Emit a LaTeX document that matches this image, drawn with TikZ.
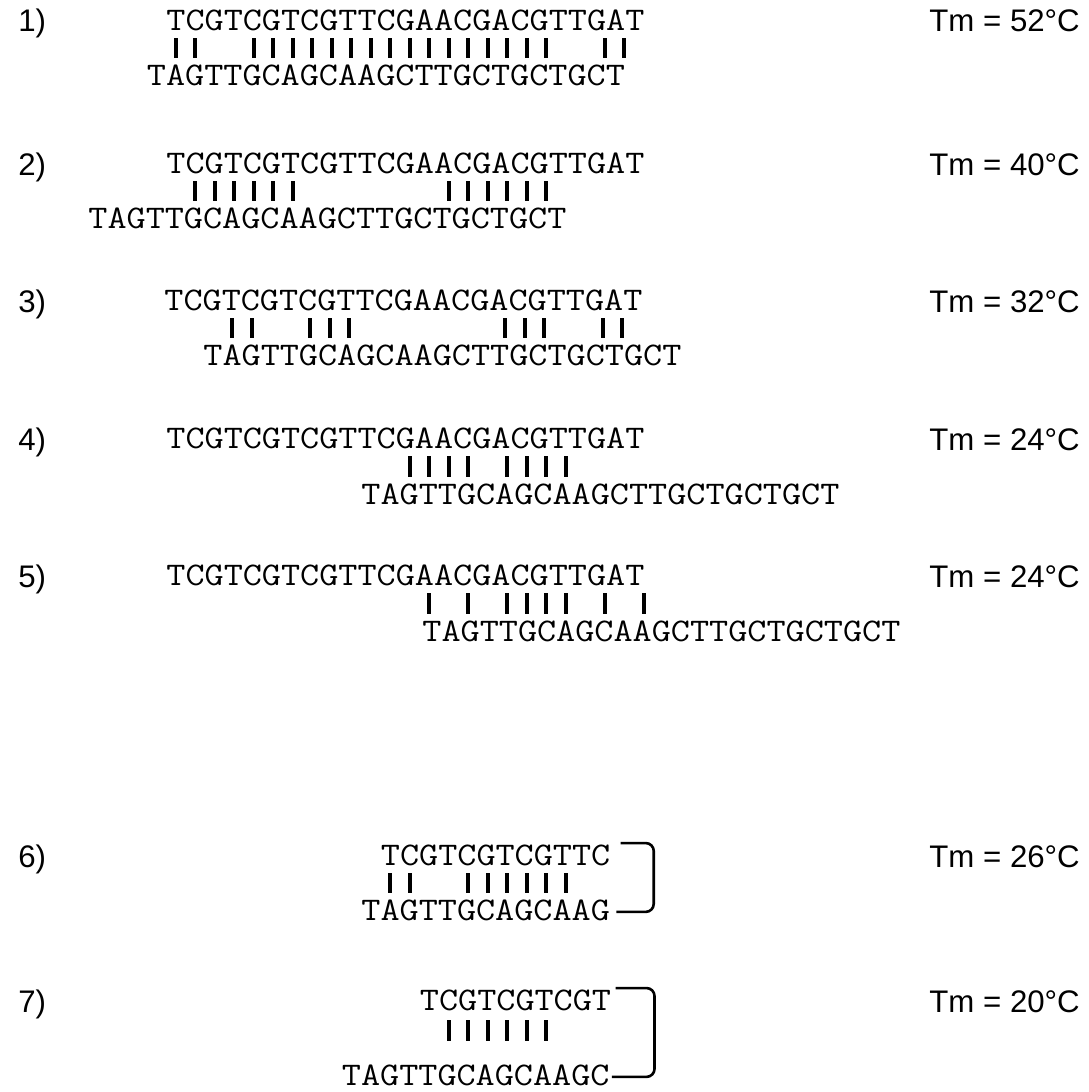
\documentclass[tikz,border=0pt]{standalone}
\usepackage{fontspec}
\setmainfont{Liberation Sans}
\newfontfamily\seqfam{Latin Modern Mono}[FakeStretch=1.125]
\newcommand{\seqfont}{\seqfam\fontsize{16.5}{18}\selectfont}
\newcommand{\lblfont}{\fontsize{15.6}{18}\selectfont}
\usetikzlibrary{positioning}

\begin{document}
\begin{tikzpicture}[
        x=0.5pt, y=-0.5pt,
        strand/.style={font=\seqfont, inner sep=0pt, anchor=base west},
        lbl/.style={font=\lblfont, inner sep=0pt, anchor=base west},
        pair/.style={line width=1.8pt},
        hairpin/.style={line width=1.3pt, rounded corners=4pt}
    ]
        \useasboundingbox (0,0) rectangle (1088,1092);

        % 1) full duplex
        \node[lbl] (num1) at (18, 32) {1)};
        \node[strand] (top1) at (166, 30) {TCGTCGTCGTTCGAACGACGTTGAT};
        \node[strand] (bot1) at (146.5, 85) {TAGTTGCAGCAAGCTTGCTGCTGCT};
        \foreach \c in {0,1,4,5,...,19,22,23}
            \draw[pair] (175.75+19.5*\c, 38) -- (175.75+19.5*\c, 58);
        \node[lbl] (tm1) at (929, 32) {Tm = 52°C};

        % 2) shifted left
        \node[lbl] (num2) at (18, 175) {2)};
        \node[strand] (top2) at (166, 173) {TCGTCGTCGTTCGAACGACGTTGAT};
        \node[strand] (bot2) at (88, 228) {TAGTTGCAGCAAGCTTGCTGCTGCT};
        \foreach \c in {1,2,...,6,14,15,...,19}
            \draw[pair] (175.75+19.5*\c, 181) -- (175.75+19.5*\c, 201);
        \node[lbl] (tm2) at (929, 175) {Tm = 40°C};

        % 3) shifted right by two
        \node[lbl] (num3) at (18, 312) {3)};
        \node[strand] (top3) at (164, 310) {TCGTCGTCGTTCGAACGACGTTGAT};
        \node[strand] (bot3) at (203, 365) {TAGTTGCAGCAAGCTTGCTGCTGCT};
        \foreach \c in {3,4,7,8,9,17,18,19,22,23}
            \draw[pair] (173.75+19.5*\c, 318) -- (173.75+19.5*\c, 338);
        \node[lbl] (tm3) at (929, 312) {Tm = 32°C};

        % 4)
        \node[lbl] (num4) at (18, 450) {4)};
        \node[strand] (top4) at (166, 448) {TCGTCGTCGTTCGAACGACGTTGAT};
        \node[strand] (bot4) at (361, 504) {TAGTTGCAGCAAGCTTGCTGCTGCT};
        \foreach \c in {12,13,14,15,17,18,19,20}
            \draw[pair] (175.75+19.5*\c, 456) -- (175.75+19.5*\c, 477);
        \node[lbl] (tm4) at (929, 450) {Tm = 24°C};

        % 5)
        \node[lbl] (num5) at (18, 587) {5)};
        \node[strand] (top5) at (166, 585) {TCGTCGTCGTTCGAACGACGTTGAT};
        \node[strand] (bot5) at (422, 641) {TAGTTGCAGCAAGCTTGCTGCTGCT};
        \foreach \c in {13,15,17,18,19,20,22,24}
            \draw[pair] (175.75+19.5*\c, 593) -- (175.75+19.5*\c, 614);
        \node[lbl] (tm5) at (929, 587) {Tm = 24°C};

        % 6) hairpin
        \node[lbl] (num6) at (18, 867) {6)};
        \node[strand] (top6) at (380.5, 865) {TCGTCGTCGTTC};
        \node[strand] (bot6) at (361, 920) {TAGTTGCAGCAAG};
        \foreach \c in {11,12,15,16,...,20}
            \draw[pair] (175.75+19.5*\c, 873) -- (175.75+19.5*\c, 893);
        \draw[hairpin] ([xshift=5pt,yshift=0.5pt]top6.north east) -- ++(33,0) |- ([xshift=3pt,yshift=-1pt]bot6.east);
        \node[lbl] (tm6) at (929, 867) {Tm = 26°C};

        % 7) hairpin
        \node[lbl] (num7) at (18, 1012) {7)};
        \node[strand] (top7) at (419.5, 1010) {TCGTCGTCGT};
        \node[strand] (bot7) at (341.5, 1085) {TAGTTGCAGCAAGC};
        \foreach \c in {14,15,...,19}
            \draw[pair] (175.75+19.5*\c, 1020) -- (175.75+19.5*\c, 1041);
        \draw[hairpin] ([xshift=2pt,yshift=0.5pt]top7.north east) -- ++(39,0) |- ([xshift=1pt,yshift=-1pt]bot7.east);
        \node[lbl] (tm7) at (929, 1012) {Tm = 20°C};

    \end{tikzpicture}
\end{document}
